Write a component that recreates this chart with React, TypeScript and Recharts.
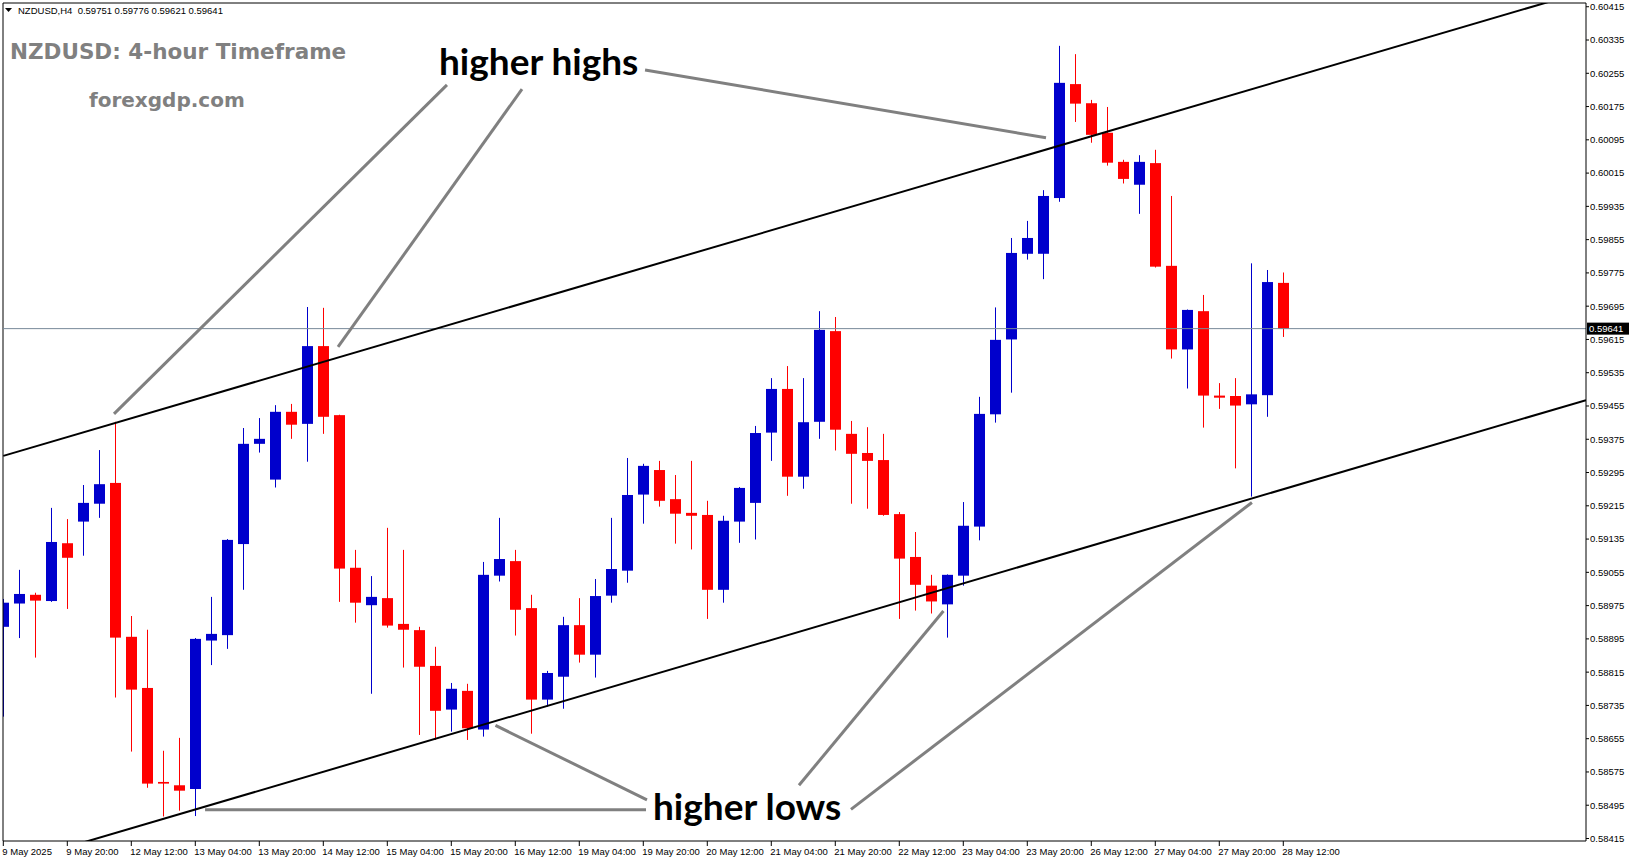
import { Bar, ComposedChart, ReferenceLine, XAxis, YAxis } from "recharts"

// NZDUSD H4 bars, 9 May 04:00 .. 28 May 12:00 (index 0..80)
const opens = [
  0.58924, 0.5898, 0.59001, 0.58986, 0.59125, 0.59177, 0.5922, 0.5927, 0.589, 0.58777,
  0.58551, 0.58543, 0.58534, 0.58891, 0.58904, 0.59123, 0.59364, 0.59278, 0.59441, 0.59412,
  0.59599, 0.59433, 0.59066, 0.58976, 0.58993, 0.58931, 0.58916, 0.5883, 0.58725, 0.5877,
  0.58677, 0.59047, 0.59082, 0.58969, 0.58749, 0.58804, 0.58928, 0.58857, 0.58999, 0.59059,
  0.59242, 0.59301, 0.59231, 0.59198, 0.59193, 0.59013, 0.59177, 0.59222, 0.59391, 0.59496,
  0.59285, 0.59417, 0.59635, 0.59388, 0.59342, 0.59325, 0.59195, 0.59092, 0.59023, 0.58978,
  0.59047, 0.59165, 0.59435, 0.59615, 0.59821, 0.59821, 0.59955, 0.60229, 0.60183, 0.60112,
  0.60042, 0.59987, 0.60039, 0.59792, 0.59591, 0.59683, 0.5948, 0.59479, 0.59459, 0.59481,
  0.59751,
]
const highs = [
  0.58991, 0.59061, 0.59006, 0.5921, 0.59183, 0.59265, 0.59349, 0.59417, 0.5895, 0.58917,
  0.58626, 0.58657, 0.58897, 0.58996, 0.59135, 0.59402, 0.59426, 0.59457, 0.5946, 0.59693,
  0.59691, 0.59434, 0.59109, 0.59046, 0.59162, 0.59109, 0.58924, 0.58876, 0.58789, 0.58787,
  0.5908, 0.59186, 0.59109, 0.59001, 0.58818, 0.58948, 0.58993, 0.59039, 0.59186, 0.5933,
  0.59316, 0.59323, 0.59289, 0.59323, 0.59227, 0.59191, 0.5926, 0.59407, 0.59522, 0.59551,
  0.59522, 0.59683, 0.59669, 0.59419, 0.59404, 0.59388, 0.592, 0.59152, 0.59049, 0.5905,
  0.59224, 0.59477, 0.59692, 0.59859, 0.599, 0.59974, 0.60321, 0.60301, 0.60191, 0.60174,
  0.60047, 0.60058, 0.60071, 0.5996, 0.59687, 0.59722, 0.5951, 0.59522, 0.59798, 0.59782,
  0.59776,
]
const lows = [
  0.58708, 0.58897, 0.5885, 0.58984, 0.58967, 0.59095, 0.59186, 0.58754, 0.58624, 0.58537,
  0.58468, 0.58482, 0.58469, 0.58832, 0.58871, 0.59013, 0.59343, 0.59259, 0.59376, 0.59321,
  0.59388, 0.58984, 0.58934, 0.58763, 0.58922, 0.58826, 0.58664, 0.58652, 0.58672, 0.58652,
  0.5866, 0.59033, 0.58903, 0.58667, 0.58732, 0.58727, 0.58838, 0.58802, 0.58982, 0.5903,
  0.59172, 0.59213, 0.59124, 0.5911, 0.58943, 0.58982, 0.59126, 0.59134, 0.59323, 0.59239,
  0.59256, 0.59376, 0.59348, 0.5922, 0.59208, 0.59191, 0.58943, 0.58963, 0.58956, 0.58898,
  0.59023, 0.59132, 0.59415, 0.59487, 0.59807, 0.5976, 0.59946, 0.60138, 0.60088, 0.60033,
  0.5999, 0.59917, 0.59788, 0.59569, 0.59497, 0.59403, 0.59448, 0.59305, 0.59237, 0.59429,
  0.59621,
]
const closes = [
  0.58982, 0.59003, 0.58987, 0.59128, 0.5909, 0.59222, 0.59267, 0.58898, 0.58773, 0.58547,
  0.58547, 0.5853, 0.58895, 0.58907, 0.59133, 0.59364, 0.59376, 0.59441, 0.5941, 0.59599,
  0.59429, 0.59064, 0.58982, 0.58996, 0.58927, 0.58917, 0.58828, 0.58722, 0.58775, 0.5868,
  0.59049, 0.59087, 0.58965, 0.58749, 0.58813, 0.58928, 0.58857, 0.58998, 0.59063, 0.59241,
  0.59311, 0.59227, 0.59196, 0.59191, 0.59013, 0.59179, 0.59258, 0.5939, 0.59496, 0.59285,
  0.59416, 0.59638, 0.59398, 0.5934, 0.59323, 0.59193, 0.59088, 0.59025, 0.58985, 0.59049,
  0.59167, 0.59436, 0.59614, 0.59823, 0.59859, 0.5996, 0.60232, 0.60182, 0.60107, 0.6004,
  0.60001, 0.60042, 0.5979, 0.59591, 0.59686, 0.5948, 0.59475, 0.59456, 0.59483, 0.59753,
  0.59641,
]

// one label every 4 bars
const dateLabels = [
  "9 May 2025", "9 May 20:00", "12 May 12:00", "13 May 04:00", "13 May 20:00", "14 May 12:00",
  "15 May 04:00", "15 May 20:00", "16 May 12:00", "19 May 04:00", "19 May 20:00", "20 May 12:00",
  "21 May 04:00", "21 May 20:00", "22 May 12:00", "23 May 04:00", "23 May 20:00", "26 May 12:00",
  "27 May 04:00", "27 May 20:00", "28 May 12:00",
]
const priceTicks = [
  0.58415, 0.58495, 0.58575, 0.58655, 0.58735, 0.58815, 0.58895, 0.58975, 0.59055, 0.59135,
  0.59215, 0.59295, 0.59375, 0.59455, 0.59535, 0.59615, 0.59695, 0.59775, 0.59855, 0.59935,
  0.60015, 0.60095, 0.60175, 0.60255, 0.60335, 0.60415,
]
const lastPrice = 0.59641

// trend channel [barIndex, price]
const upperChannel = [[0, 0.59335], [98.92, 0.60453]]
const lowerChannel = [[0, 0.58349], [98.92, 0.59469]]
// annotation pointers [[i1, p1], [i2, p2]]
const highPointers = [
  [[27.73, 0.60227], [6.92, 0.59436]],
  [[32.42, 0.60217], [20.92, 0.59597]],
  [[40.11, 0.60263], [65.17, 0.601]],
]
const lowPointers = [
  [[12.61, 0.58484], [40.17, 0.58484]],
  [[30.76, 0.58687], [40.23, 0.58508]],
  [[49.73, 0.58543], [58.76, 0.58962]],
  [[52.98, 0.58485], [78.04, 0.59223]],
]

const X_MIN = -0.019
const X_MAX = 98.92
const Y_MIN = 0.58409
const Y_MAX = 0.60424

const BULL = "#0000cc"
const BEAR = "#ff0000"
const AXIS_FONT = "'Liberation Sans', Arial, sans-serif"

const candles = opens.map((o, i) => ({
  i,
  open: o,
  high: highs[i],
  low: lows[i],
  close: closes[i],
}))

function Candle(props: any) {
  const { x, y, width, height, payload } = props
  if (x == null || !payload) return null
  const top = Math.min(y, y + height)
  const h = Math.abs(height)
  const range = payload.high - payload.low || 1e-9
  const py = (v: number) => top + ((payload.high - v) / range) * h
  const up = payload.close >= payload.open
  const color = up ? BULL : BEAR
  const cx = Math.round(x + width / 2) + 0.5
  const bTop = py(Math.max(payload.open, payload.close))
  const bBot = py(Math.min(payload.open, payload.close))
  return (
    <g>
      <line x1={cx} x2={cx} y1={top} y2={top + h} stroke={color} strokeWidth={1} />
      <rect x={cx - 5.5} y={bTop} width={11} height={Math.max(bBot - bTop, 1)} fill={color} />
    </g>
  )
}

function DateTick(props: any) {
  const { x, y, payload } = props
  const label = dateLabels[Math.round(payload.value / 4)]
  return (
    <text x={x - 1} y={y + 8.5} fontSize={9.5} fontFamily={AXIS_FONT} fill="#000">
      {label}
    </text>
  )
}

function PriceTag(props: any) {
  const vb = props.viewBox
  if (!vb) return null
  const x = vb.x + vb.width
  return (
    <g>
      <rect x={x + 1} y={vb.y - 6} width={42} height={12} fill="#000" />
      <text x={x + 3} y={vb.y + 3.5} fontSize={9.5} fontFamily={AXIS_FONT} fill="#fff">
        {lastPrice.toFixed(5)}
      </text>
    </g>
  )
}

const seg = (pts: number[][]) => [
  { x: pts[0][0], y: pts[0][1] },
  { x: pts[1][0], y: pts[1][1] },
]

export default function App() {
  const dateTicks = dateLabels.map((_, k) => k * 4)
  return (
    <div style={{ position: "absolute", left: 0, top: 0, width: 1631, height: 861, background: "#fff" }}>
      <ComposedChart width={1631} height={861} data={candles} margin={{ top: 3, right: 0, bottom: 0, left: 3 }}>
        <XAxis
          dataKey="i"
          type="number"
          domain={[X_MIN, X_MAX]}
          allowDataOverflow
          ticks={dateTicks}
          interval={0}
          height={20}
          tickSize={5}
          tickMargin={0}
          axisLine={{ stroke: "#000" }}
          tickLine={{ stroke: "#000" }}
          tick={<DateTick />}
        />
        <YAxis
          orientation="right"
          type="number"
          domain={[Y_MIN, Y_MAX]}
          allowDataOverflow
          ticks={priceTicks}
          interval={0}
          width={45}
          tickSize={3}
          tickMargin={1}
          axisLine={{ stroke: "#000" }}
          tickLine={{ stroke: "#000" }}
          tick={{ fontSize: 9.5, fill: "#000", fontFamily: AXIS_FONT }}
          tickFormatter={(v: number) => v.toFixed(5)}
        />
        <ReferenceLine x={X_MIN} stroke="#000" />
        <ReferenceLine y={Y_MAX} stroke="#000" />
        <ReferenceLine y={lastPrice} stroke="#778899" strokeWidth={1} label={<PriceTag />} />
        <Bar
          dataKey={(d: any) => [d.low, d.high]}
          barSize={11}
          shape={<Candle />}
          isAnimationActive={false}
        />
        <ReferenceLine segment={seg(upperChannel)} stroke="#000" strokeWidth={2} ifOverflow="hidden" />
        <ReferenceLine segment={seg(lowerChannel)} stroke="#000" strokeWidth={2} ifOverflow="hidden" />
        {[...highPointers, ...lowPointers].map((p, k) => (
          <ReferenceLine key={k} segment={seg(p)} stroke="#808080" strokeWidth={3} ifOverflow="visible" />
        ))}
      </ComposedChart>
      <svg width={1631} height={861} style={{ position: "absolute", left: 0, top: 0, pointerEvents: "none" }}>
        <polygon points="5,8 12,8 8.5,12" fill="#000" />
        <text x={18} y={14} fontSize={9.5} fontFamily={AXIS_FONT} fill="#000" style={{ whiteSpace: "pre" }}>
          {`NZDUSD,H4  ${opens[80].toFixed(5)} ${highs[80].toFixed(5)} ${lows[80].toFixed(5)} ${closes[80].toFixed(5)}`}
        </text>
        <text x={10} y={59} fontSize={21.5} fontWeight={700} fontFamily="'DejaVu Sans', sans-serif" fill="#808080">
          NZDUSD: 4-hour Timeframe
        </text>
        <text x={89} y={107} fontSize={20} fontWeight={700} fontFamily="'DejaVu Sans', sans-serif" fill="#808080">
          forexgdp.com
        </text>
        <text x={439} y={75} fontSize={37} fontWeight={700} fontFamily="Lato, sans-serif" fill="#000">
          higher highs
        </text>
        <text x={653} y={820} fontSize={37} fontWeight={700} fontFamily="Lato, sans-serif" fill="#000">
          higher lows
        </text>
      </svg>
    </div>
  )
}
